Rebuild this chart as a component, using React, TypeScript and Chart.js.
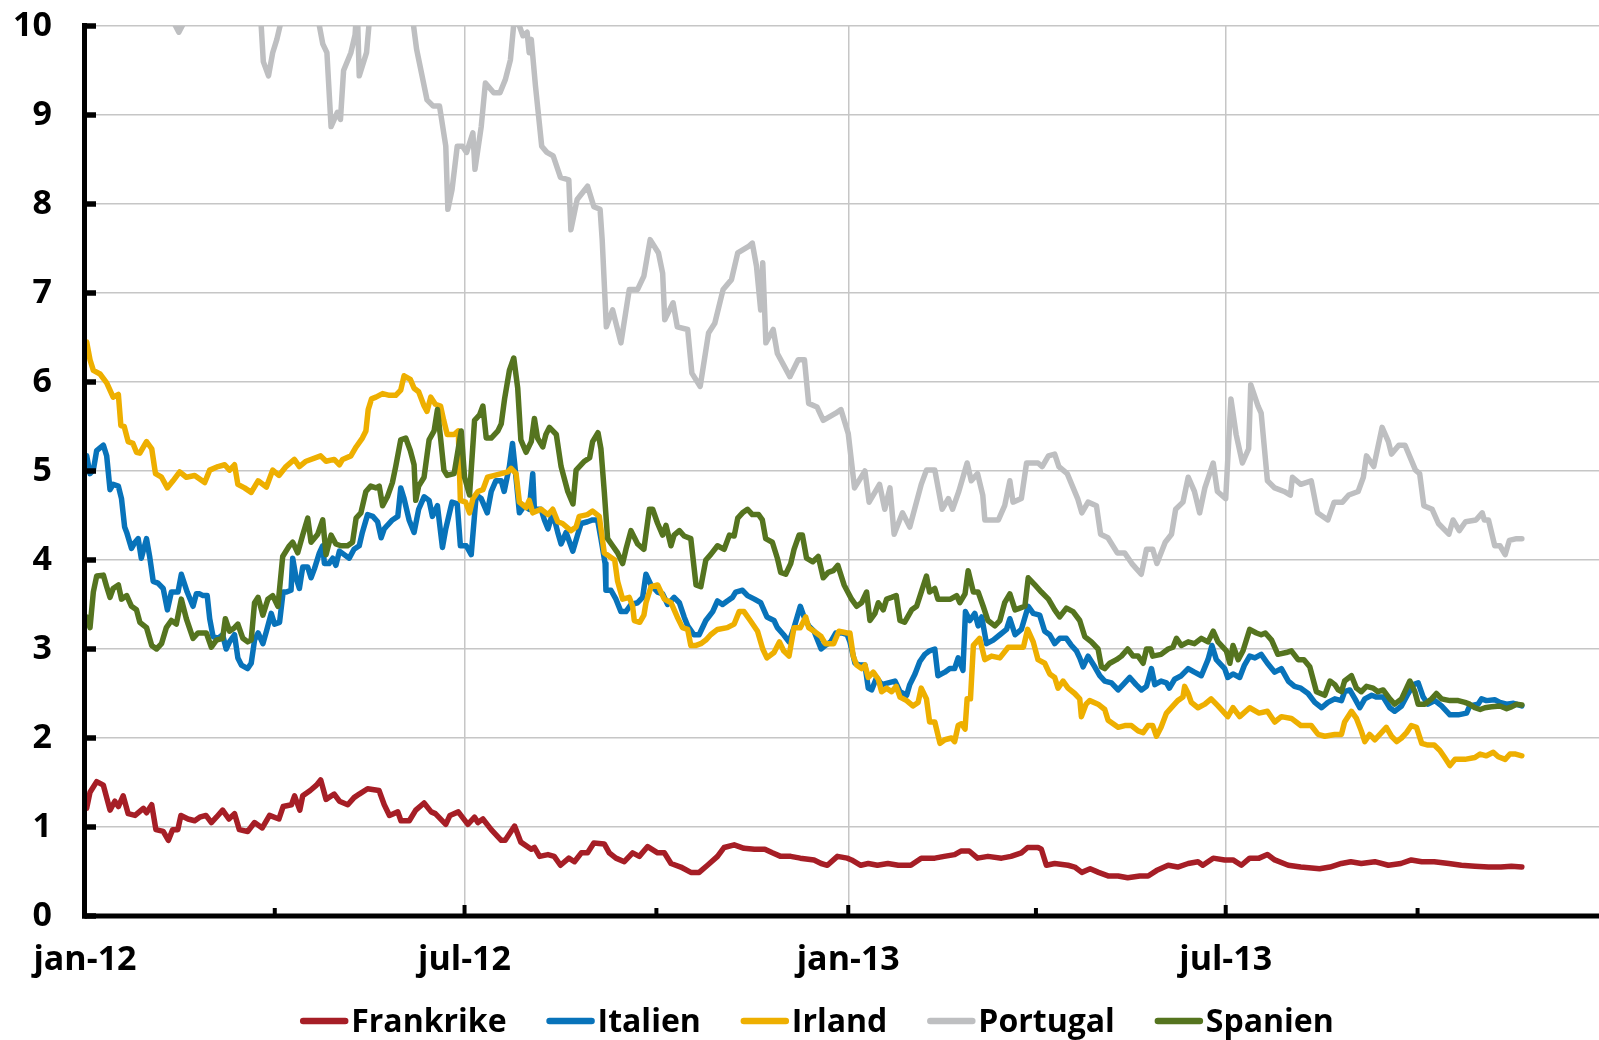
import React, { useEffect, useRef } from 'react';
import { Chart, registerables } from 'chart.js';

Chart.register(...registerables);

// x values are days since 2012-01-01
const TICK_DAYS = [0, 91, 182, 274, 366, 456, 547, 639];
const TICK_LABELS = ['jan-12', '', 'jul-12', '', 'jan-13', '', 'jul-13', ''];
const GRID_DAYS = [182, 366, 547];
const Y_TICKS = [0, 1, 2, 3, 4, 5, 6, 7, 8, 9, 10];

const SERIES_NAMES = ['Frankrike', 'Italien', 'Irland', 'Portugal', 'Spanien'];
const SERIES_COLORS = ['#A61E26', '#0873BA', '#EEAF00', '#BEBFC1', '#55741F'];

const FRANKRIKE: [number, number][] = [
  [0.8, 1.21], [2.4, 1.39], [5.6, 1.51], [8.8, 1.47], [12, 1.19], [14.3, 1.29], [16, 1.23], [18.3, 1.35], [20.7, 1.15], [24, 1.13],
  [28, 1.21], [29.5, 1.16], [32, 1.25], [34, 0.97], [37.5, 0.95], [40, 0.85], [42, 0.97], [44.5, 0.97], [46, 1.13], [49.4, 1.09],
  [52.6, 1.07], [55, 1.11], [58, 1.13], [60.6, 1.05], [63, 1.11], [66, 1.19], [69, 1.09], [71.7, 1.15], [74, 0.97], [78, 0.95],
  [81.3, 1.05], [85, 0.99], [88.5, 1.13], [93, 1.09], [95, 1.23], [99, 1.25], [100.5, 1.35], [103, 1.19], [104.4, 1.35], [108, 1.41],
  [111, 1.47], [113, 1.53], [115.6, 1.31], [119.5, 1.37], [122, 1.29], [126, 1.25], [129, 1.33], [131.5, 1.37], [135.5, 1.43], [141, 1.41],
  [143.5, 1.25], [146, 1.13], [150, 1.17], [151.5, 1.07], [155.5, 1.07], [158.6, 1.19], [162.6, 1.27], [166, 1.17], [168, 1.15], [173, 1.03],
  [175, 1.13], [179, 1.17], [183.6, 1.03], [186.8, 1.11], [188.4, 1.05], [190.8, 1.09], [194.8, 0.97], [199.6, 0.85], [201.5, 0.85], [206, 1.01],
  [209, 0.83], [214, 0.75], [215.5, 0.77], [218, 0.67], [222, 0.69], [225, 0.67], [228, 0.57], [232, 0.65], [234.7, 0.61], [238, 0.71],
  [241, 0.71], [244, 0.82], [249, 0.81], [251.4, 0.71], [254.6, 0.65], [258.6, 0.61], [262.6, 0.71], [265.8, 0.67], [269.8, 0.78], [274.6, 0.71],
  [277.8, 0.71], [281, 0.59], [285.7, 0.55], [290.5, 0.49], [294.5, 0.49], [298.5, 0.57], [303.3, 0.67], [306.5, 0.77], [311.3, 0.8], [316, 0.76],
  [321, 0.75], [326, 0.75], [329.6, 0.71], [333.6, 0.67], [338.4, 0.67], [343, 0.65], [349.6, 0.63], [353, 0.59], [356, 0.57], [360.8, 0.67],
  [365.5, 0.65], [367.6, 0.63], [372, 0.57], [375.6, 0.59], [380, 0.57], [385, 0.59], [390, 0.57], [396, 0.57], [401, 0.65], [407.5, 0.65],
  [412, 0.67], [417, 0.69], [420, 0.73], [424, 0.73], [428, 0.65], [433, 0.67], [439.5, 0.65], [444, 0.67], [449, 0.71], [452, 0.77],
  [457, 0.77], [458.6, 0.75], [461, 0.57], [465, 0.59], [471.4, 0.57], [474.6, 0.55], [478, 0.49], [482, 0.53], [486, 0.49], [490.6, 0.45],
  [495.4, 0.45], [500, 0.43], [505.8, 0.45], [509.8, 0.45], [513.8, 0.51], [519.4, 0.57], [524, 0.55], [529, 0.59], [533.7, 0.61], [536, 0.57],
  [541, 0.65], [546.5, 0.63], [550.5, 0.63], [554.5, 0.57], [558.5, 0.65], [563, 0.65], [567, 0.69], [570.5, 0.63], [577, 0.57], [583, 0.55],
  [592, 0.53], [597, 0.55], [602.5, 0.59], [607, 0.61], [612, 0.59], [618.5, 0.61], [625, 0.57], [631, 0.59], [636, 0.63], [641, 0.61],
  [647, 0.61], [654, 0.59], [660, 0.57], [666.5, 0.56], [673, 0.55], [679, 0.55], [684, 0.56], [689, 0.55],
];

const ITALIEN: [number, number][] = [
  [0.8, 5.17], [2.4, 4.97], [4, 5.01], [5.6, 5.23], [8.8, 5.29], [10.4, 5.17], [12, 4.79], [13.5, 4.85], [16, 4.83], [17.5, 4.69],
  [19, 4.37], [20, 4.31], [22.3, 4.13], [24, 4.2], [25.5, 4.24], [27, 4.02], [29.5, 4.24], [31, 4.04], [32.7, 3.76], [35, 3.74],
  [37.5, 3.68], [39.5, 3.44], [41.4, 3.64], [44.6, 3.64], [46.2, 3.84], [49, 3.64], [51.8, 3.48], [53.4, 3.62], [55, 3.62], [56.6, 3.6],
  [58.6, 3.6], [59.8, 3.34], [61.4, 3.14], [63.8, 3.12], [66, 3.16], [67.7, 3.0], [69.3, 3.08], [71.7, 3.16], [73.3, 2.9], [75, 2.82],
  [78, 2.78], [79.7, 2.84], [81.3, 3.1], [83, 3.18], [85.3, 3.06], [87, 3.2], [89.3, 3.4], [90.9, 3.28], [93.3, 3.3], [95, 3.64],
  [96.4, 3.64], [98.8, 3.66], [99.6, 4.02], [101.2, 3.8], [102.8, 3.68], [104.4, 3.92], [106.8, 3.92], [108.4, 3.8], [110, 3.9], [112.4, 4.08],
  [114, 4.16], [114.8, 3.96], [117, 3.96], [118.8, 4.02], [120.3, 3.94], [122, 4.1], [124.3, 4.06], [126.7, 4.02], [129, 4.12], [131.5, 4.16],
  [133, 4.31], [135.5, 4.51], [138, 4.49], [140.3, 4.43], [142, 4.25], [143.5, 4.35], [145, 4.39], [147.4, 4.45], [150, 4.49], [151.4, 4.81],
  [153, 4.69], [155.4, 4.45], [157.8, 4.31], [160, 4.57], [162.6, 4.71], [165, 4.67], [166.6, 4.49], [169, 4.61], [171.4, 4.14], [173, 4.35],
  [176, 4.65], [178.5, 4.63], [180, 4.16], [182.8, 4.16], [185.2, 4.06], [187.6, 4.73], [190, 4.69], [192.9, 4.53], [194.8, 4.77], [197, 4.89],
  [199.6, 4.89], [201, 4.77], [203.5, 5.05], [205, 5.31], [206, 5.09], [208.3, 4.53], [210.7, 4.61], [213, 4.57], [214.7, 4.97], [215.5, 4.57],
  [218.7, 4.57], [220.3, 4.45], [222, 4.35], [224.3, 4.53], [226.7, 4.31], [228.3, 4.18], [230.7, 4.31], [233.9, 4.1], [236.3, 4.29], [237.9, 4.41],
  [241, 4.43], [243.4, 4.45], [245.8, 4.45], [247.4, 4.24], [249.4, 3.96], [249.8, 3.66], [252.2, 3.66], [254.6, 3.56], [257, 3.42], [259.4, 3.42],
  [261.8, 3.5], [265, 3.52], [267.4, 3.58], [269, 3.84], [271.4, 3.72], [274.6, 3.64], [277, 3.62], [279.4, 3.5], [282.5, 3.58], [285, 3.52],
  [287.3, 3.36], [289, 3.26], [292, 3.16], [294.5, 3.16], [297.7, 3.32], [301, 3.42], [303.3, 3.54], [305.7, 3.5], [308, 3.54], [310.5, 3.58],
  [312, 3.64], [315.3, 3.66], [317.7, 3.6], [321, 3.56], [324, 3.52], [327, 3.36], [330.4, 3.32], [332, 3.24], [335, 3.16], [337.6, 3.08],
  [340, 3.24], [343, 3.48], [344.8, 3.36], [347, 3.26], [349.6, 3.2], [353, 3.0], [355, 3.04], [357.6, 3.08], [360, 3.18], [363, 3.18],
  [365.5, 3.16], [366.8, 3.08], [369.2, 2.84], [371.6, 2.82], [374, 2.82], [375.6, 2.56], [377.2, 2.54], [379.6, 2.68], [382, 2.6], [385.2, 2.62],
  [388.4, 2.64], [390.8, 2.52], [394, 2.48], [395.5, 2.6], [398, 2.72], [400.3, 2.86], [402.7, 2.94], [405, 2.98], [407.5, 3.0], [409, 2.7],
  [412.3, 2.74], [414.7, 2.78], [417, 2.78], [418.7, 2.9], [421, 2.76], [422.2, 3.42], [424.3, 3.32], [426.7, 3.4], [428.3, 3.26], [430, 3.36],
  [432.3, 3.06], [435.5, 3.1], [438.7, 3.16], [441.9, 3.22], [443.5, 3.34], [446, 3.16], [449, 3.22], [452.3, 3.48], [454.7, 3.4], [457.8, 3.38],
  [460.2, 3.2], [462.6, 3.16], [465, 3.06], [467.4, 3.12], [470.6, 3.12], [473, 3.04], [475.4, 2.98], [477, 2.9], [478.6, 2.8], [481, 2.92],
  [484.2, 2.8], [486.6, 2.7], [489, 2.64], [492.2, 2.62], [495.4, 2.54], [497.8, 2.6], [501, 2.68], [504, 2.6], [506.6, 2.54], [509, 2.58],
  [511.4, 2.78], [513, 2.6], [516, 2.64], [518.6, 2.62], [520, 2.56], [522.5, 2.66], [525.7, 2.7], [529, 2.78], [532, 2.74], [535.3, 2.7],
  [538.5, 2.88], [540.4, 3.04], [542.5, 2.88], [546.5, 2.78], [548, 2.68], [550.5, 2.72], [553.7, 2.68], [556, 2.82], [558.5, 2.92], [561, 2.9],
  [564, 2.94], [567, 2.84], [570.5, 2.74], [573.7, 2.78], [577, 2.64], [580, 2.58], [583, 2.56], [586.5, 2.5], [589.7, 2.4], [593, 2.34],
  [596, 2.4], [599.3, 2.44], [602.5, 2.42], [604, 2.52], [606.5, 2.54], [609, 2.44], [611.3, 2.34], [613.7, 2.44], [617, 2.48], [619.3, 2.46],
  [622.5, 2.46], [625.7, 2.34], [628, 2.3], [631.3, 2.36], [634.5, 2.5], [637, 2.6], [639.3, 2.62], [641.7, 2.46], [644, 2.38], [647.3, 2.42],
  [650.5, 2.36], [654.5, 2.26], [658.5, 2.26], [662.5, 2.28], [664, 2.36], [668, 2.38], [669.7, 2.44], [672, 2.42], [676, 2.43], [678.5, 2.4],
  [681.7, 2.38], [685, 2.39], [689, 2.36],
];

const IRLAND: [number, number][] = [
  [0.8, 6.45], [2.4, 6.25], [4, 6.13], [7.2, 6.09], [10.4, 5.99], [13.5, 5.83], [16, 5.86], [17.2, 5.51], [18.8, 5.5], [20.7, 5.33],
  [23, 5.31], [24.7, 5.21], [26.3, 5.2], [29.5, 5.33], [32, 5.25], [33.8, 4.97], [36.7, 4.93], [39.5, 4.81], [42.2, 4.89], [45.4, 4.99],
  [48.6, 4.93], [52.6, 4.95], [55, 4.91], [57.4, 4.87], [59.8, 5.01], [63.8, 5.05], [67, 5.07], [69.3, 5.01], [71.7, 5.07], [73.3, 4.85],
  [76.5, 4.81], [79.7, 4.76], [83, 4.89], [87, 4.82], [90, 5.01], [93, 4.95], [96.4, 5.05], [100.4, 5.13], [102.8, 5.05], [106, 5.11],
  [113, 5.17], [115.6, 5.11], [119.5, 5.13], [122, 5.07], [123.5, 5.13], [127.5, 5.17], [130, 5.27], [133, 5.37], [134.7, 5.45], [135.8, 5.69],
  [137.4, 5.81], [139.5, 5.83], [142.7, 5.87], [146, 5.85], [149, 5.85], [151.4, 5.91], [153, 6.07], [156, 6.03], [157.8, 5.93], [160, 5.89],
  [162.6, 5.73], [164, 5.67], [165.8, 5.83], [168, 5.75], [170.5, 5.73], [172, 5.57], [173.7, 5.41], [177, 5.41], [179, 5.45], [180, 4.67],
  [182.5, 4.65], [184.4, 4.53], [186, 4.69], [188.4, 4.77], [190.8, 4.79], [193, 4.93], [196.4, 4.95], [199.6, 4.97], [202.7, 4.99], [204.3, 5.03],
  [206.7, 4.97], [208.3, 4.65], [211.5, 4.59], [213, 4.67], [214.7, 4.53], [218.7, 4.57], [222, 4.51], [224.3, 4.57], [226.7, 4.43], [229, 4.41],
  [233, 4.33], [235.5, 4.37], [237, 4.49], [241, 4.51], [243.4, 4.55], [246.6, 4.49], [249, 4.08], [254, 4.0], [255.4, 3.76], [257.8, 3.56],
  [261, 3.58], [262.6, 3.48], [263.4, 3.32], [266, 3.3], [268, 3.38], [269, 3.52], [271.4, 3.7], [274.6, 3.72], [277.8, 3.56], [281, 3.52],
  [284, 3.36], [286.5, 3.24], [289, 3.22], [290.5, 3.04], [293, 3.04], [295.3, 3.06], [297.7, 3.1], [300, 3.16], [303.3, 3.22], [308, 3.24],
  [311.3, 3.28], [313.7, 3.42], [316, 3.42], [319, 3.32], [322.5, 3.2], [325, 3.0], [327, 2.9], [330.4, 2.96], [333, 3.08], [335, 2.98],
  [337.6, 2.92], [340, 3.24], [343, 3.24], [345.6, 3.36], [347, 3.24], [349.6, 3.2], [353, 3.14], [355, 3.06], [359, 3.06], [361.5, 3.2],
  [365.5, 3.18], [366.8, 3.18], [368.4, 2.92], [370, 2.82], [372.4, 2.78], [374, 2.82], [375.6, 2.68], [378, 2.74], [380.4, 2.66], [382, 2.52],
  [384.4, 2.56], [386.8, 2.52], [389, 2.58], [390.8, 2.46], [394, 2.42], [397, 2.36], [399.5, 2.4], [401, 2.56], [403.5, 2.44], [405, 2.18],
  [407.5, 2.18], [410, 1.94], [412.3, 1.98], [415.5, 2.0], [417, 1.96], [418.7, 2.14], [420.3, 2.16], [422, 2.1], [423, 2.44], [424.6, 2.44],
  [426, 3.04], [429, 3.12], [431.5, 2.88], [434.7, 2.92], [438.7, 2.9], [442.7, 3.02], [445.9, 3.02], [450, 3.02], [452, 3.22], [454.7, 3.08],
  [457, 2.88], [460.2, 2.84], [462.6, 2.72], [465, 2.68], [466.6, 2.56], [469, 2.64], [471.4, 2.56], [474.6, 2.5], [477, 2.44], [477.8, 2.24],
  [480, 2.38], [481.8, 2.42], [485.8, 2.38], [489, 2.32], [490.6, 2.2], [493, 2.16], [495.4, 2.12], [498.6, 2.14], [501.8, 2.14], [505, 2.08],
  [507.4, 2.06], [509.8, 2.14], [512, 2.14], [513.8, 2.02], [516, 2.12], [518.6, 2.28], [521.7, 2.36], [524, 2.42], [526.5, 2.46], [527.3, 2.58],
  [529, 2.5], [530.5, 2.4], [533.7, 2.34], [537, 2.38], [540, 2.44], [543.3, 2.36], [548, 2.24], [550.5, 2.34], [553.7, 2.24], [558.5, 2.34],
  [563, 2.28], [567, 2.3], [570.5, 2.18], [573.7, 2.24], [578.5, 2.22], [583, 2.14], [588, 2.14], [591.3, 2.04], [594.5, 2.02], [599.3, 2.04],
  [602.5, 2.04], [604, 2.18], [607.3, 2.3], [609.7, 2.22], [612, 2.08], [613.7, 1.96], [616, 2.04], [618.5, 1.98], [621.7, 2.06], [624, 2.12],
  [626.5, 2.02], [629, 1.96], [631.3, 2.0], [633.7, 2.06], [636, 2.14], [638.5, 2.12], [641, 1.94], [644, 1.92], [647, 1.92], [649.7, 1.86],
  [652, 1.78], [654.5, 1.69], [657, 1.76], [661.7, 1.76], [666.5, 1.78], [669, 1.82], [672, 1.8], [675.3, 1.84], [677.7, 1.79], [681, 1.76],
  [683.3, 1.82], [686, 1.82], [689, 1.8],
];

const PORTUGAL: [number, number][] = [
  [1, 12.6], [8, 13.4], [15, 14.2], [22, 13.8], [29, 12.6], [36, 11.2], [41, 10.3], [43, 10.02], [45, 9.93], [47, 10.02],
  [50, 10.8], [56, 11.8], [64, 12.2], [72, 11.6], [79, 10.9], [84, 10.2], [85.5, 9.6], [88, 9.44], [90, 9.7], [92, 9.85],
  [94, 10.05], [98, 10.6], [104, 10.9], [109, 10.4], [112, 10.05], [114, 9.8], [116, 9.7], [118, 8.87], [121, 9.03], [122.5, 8.95],
  [124, 9.5], [127.5, 9.7], [129.5, 9.9], [130.5, 10.25], [131.5, 9.44], [135, 9.7], [136.5, 10.1], [140, 10.9], [147, 11.2], [153, 10.7],
  [157, 10.1], [159, 9.74], [164, 9.17], [167, 9.1], [170, 9.1], [173, 8.65], [174, 7.94], [176, 8.16], [178.5, 8.65], [181, 8.65],
  [183, 8.58], [186, 8.8], [187, 8.39], [190, 8.87], [192, 9.36], [196, 9.25], [199, 9.25], [201.6, 9.4], [204, 9.62], [205.6, 10.02],
  [208, 10.02], [210, 9.89], [212, 9.93], [213, 9.7], [214, 9.85], [216, 9.33], [219, 8.65], [221.5, 8.58], [224.5, 8.54], [228, 8.3],
  [232, 8.27], [233, 7.71], [236, 8.05], [241, 8.2], [244, 7.97], [247, 7.94], [248, 7.6], [250, 6.62], [253, 6.81], [257, 6.44],
  [261, 7.04], [265, 7.04], [268, 7.19], [271, 7.6], [275, 7.45], [277, 7.22], [278, 6.7], [282, 6.89], [284, 6.62], [289, 6.59],
  [291, 6.1], [295, 5.95], [297, 6.25], [299, 6.55], [302, 6.66], [306, 7.04], [310, 7.15], [313, 7.45], [318, 7.52], [320, 7.56],
  [322, 7.3], [324, 6.81], [325, 7.34], [326.5, 6.44], [330, 6.59], [332, 6.32], [338, 6.06], [342, 6.25], [345, 6.25], [347, 5.76],
  [351, 5.72], [354, 5.57], [360, 5.65], [362.5, 5.69], [366, 5.42], [369, 4.81], [374, 5.0], [376, 4.65], [381, 4.85], [383.5, 4.57],
  [386, 4.81], [388, 4.29], [392, 4.53], [395.5, 4.37], [401, 4.85], [403.5, 5.01], [407.5, 5.01], [411, 4.57], [414, 4.69], [416, 4.57],
  [419, 4.77], [423, 5.09], [425, 4.89], [428, 4.97], [430.5, 4.73], [431.5, 4.45], [438, 4.45], [441, 4.61], [443.5, 4.89], [445, 4.65],
  [449, 4.69], [451.5, 5.09], [457, 5.09], [459, 5.05], [462, 5.17], [465, 5.19], [467, 5.05], [471, 4.97], [476, 4.69], [478, 4.53],
  [481, 4.65], [485, 4.61], [487, 4.29], [490.5, 4.25], [495, 4.08], [498.5, 4.08], [502, 3.96], [506.5, 3.84], [509, 4.12], [512, 4.12],
  [514, 3.96], [518, 4.2], [521, 4.29], [523, 4.57], [526.5, 4.65], [529, 4.93], [532, 4.77], [534.5, 4.53], [537, 4.81], [541, 5.09],
  [543, 4.77], [547, 4.69], [549.5, 5.81], [552, 5.41], [555, 5.09], [558, 5.25], [559, 5.97], [562.5, 5.73], [564, 5.65], [567, 4.89],
  [570.5, 4.81], [575, 4.77], [578, 4.73], [579, 4.93], [583, 4.85], [588, 4.89], [591, 4.53], [596, 4.45], [599, 4.65], [603, 4.65],
  [606, 4.73], [610.5, 4.77], [613, 4.93], [614.5, 5.17], [618, 5.05], [622, 5.49], [625, 5.33], [626.5, 5.19], [630, 5.29], [633, 5.29],
  [638, 5.01], [640, 4.97], [642, 4.61], [646, 4.57], [649, 4.41], [654, 4.29], [656, 4.45], [659, 4.33], [662, 4.43], [667, 4.45],
  [670, 4.53], [671, 4.45], [673, 4.45], [676, 4.16], [678.5, 4.16], [681, 4.06], [683, 4.22], [686.5, 4.24], [689, 4.24],
];

const SPANIEN: [number, number][] = [
  [0.8, 3.36], [2.4, 3.24], [4, 3.64], [5.6, 3.82], [8.8, 3.83], [10.4, 3.7], [12, 3.58], [13.5, 3.68], [16, 3.72], [17.5, 3.56],
  [20, 3.6], [22.3, 3.48], [24.7, 3.44], [26.3, 3.3], [29.5, 3.24], [32, 3.04], [34.3, 3.0], [36.7, 3.06], [39, 3.24], [41.4, 3.32],
  [43.8, 3.28], [46.2, 3.56], [48.6, 3.34], [51.8, 3.12], [54.2, 3.18], [58.2, 3.18], [60.6, 3.02], [63, 3.1], [66, 3.12], [67.3, 3.34],
  [69.3, 3.2], [71.7, 3.24], [73.3, 3.28], [75.7, 3.12], [78, 3.08], [79.7, 3.1], [81.3, 3.52], [83, 3.58], [85.3, 3.38], [87.7, 3.56],
  [90, 3.6], [92.5, 3.48], [94.8, 4.04], [98, 4.16], [99.6, 4.2], [102, 4.08], [104.4, 4.28], [106.8, 4.47], [108.4, 4.2], [111.6, 4.29],
  [114, 4.45], [115.6, 4.06], [118, 4.28], [120.3, 4.18], [122.7, 4.16], [125.9, 4.16], [128.3, 4.2], [130, 4.47], [132.3, 4.53], [134.7, 4.77],
  [137, 4.83], [139.5, 4.81], [141.1, 4.83], [142.7, 4.61], [145, 4.71], [147.4, 4.87], [149, 5.05], [151.4, 5.35], [153.8, 5.37], [156, 5.23],
  [157.8, 5.07], [158.6, 4.67], [160, 4.83], [162.6, 4.93], [165, 5.35], [167.4, 5.45], [169, 5.69], [170.5, 5.37], [172.1, 5.01], [173.7, 4.95],
  [177, 4.97], [180.4, 5.45], [182, 4.93], [184.4, 4.73], [186.8, 5.57], [189.2, 5.63], [190.8, 5.73], [192.4, 5.37], [194.8, 5.37], [198, 5.45],
  [199.6, 5.53], [201.2, 5.81], [203.5, 6.13], [205.6, 6.27], [207.5, 5.93], [209, 5.35], [211.5, 5.21], [214, 5.33], [215.5, 5.59], [217, 5.37],
  [219.5, 5.27], [221, 5.41], [222.7, 5.49], [226, 5.41], [228.3, 5.05], [231.5, 4.77], [234, 4.63], [235.5, 5.01], [239.5, 5.11], [242, 5.15],
  [243.4, 5.33], [246, 5.43], [247.4, 5.25], [249, 4.77], [250.6, 4.24], [253, 4.16], [255.4, 4.08], [257.8, 3.96], [259.4, 4.12], [261.8, 4.33],
  [265, 4.18], [268, 4.12], [270.6, 4.57], [272.2, 4.57], [274.6, 4.41], [277, 4.28], [278.6, 4.39], [281, 4.16], [282.5, 4.28], [285, 4.33],
  [287.3, 4.27], [290.5, 4.24], [293, 3.72], [295.3, 3.7], [297.7, 4.0], [300, 4.06], [303.3, 4.16], [306.5, 4.12], [309, 4.28], [311.3, 4.27],
  [313, 4.47], [315.3, 4.53], [317.7, 4.57], [320, 4.51], [323, 4.51], [324.8, 4.45], [326.4, 4.24], [329.6, 4.2], [332, 4.02], [333.6, 3.86],
  [336, 3.84], [338.4, 3.96], [340, 4.12], [342.4, 4.28], [344, 4.28], [346, 4.02], [349, 3.98], [351.6, 4.04], [354, 3.8], [356.4, 3.86],
  [358.8, 3.88], [361, 3.94], [364, 3.72], [367.6, 3.56], [370, 3.48], [372.4, 3.52], [374.8, 3.64], [376.4, 3.32], [378.8, 3.4], [380.4, 3.52],
  [382.8, 3.44], [384.4, 3.56], [386.8, 3.58], [389, 3.6], [390.8, 3.32], [393, 3.3], [396.4, 3.44], [398.8, 3.48], [401, 3.64], [403.5, 3.82],
  [405, 3.64], [407.5, 3.68], [409, 3.56], [412, 3.56], [415, 3.56], [418, 3.6], [419.5, 3.52], [422, 3.62], [423.5, 3.88], [426, 3.64],
  [428.3, 3.64], [430.7, 3.48], [433, 3.32], [436.3, 3.26], [438.7, 3.32], [441, 3.52], [443.5, 3.62], [446, 3.44], [448.3, 3.46], [450.7, 3.48],
  [452.3, 3.8], [455.5, 3.72], [458.6, 3.64], [462, 3.56], [465, 3.44], [467.4, 3.36], [470.6, 3.46], [473.8, 3.42], [477, 3.32], [479.4, 3.14],
  [482.6, 3.08], [485.8, 3.0], [487.4, 2.8], [489, 2.78], [491.4, 2.84], [494.6, 2.88], [497, 2.92], [500, 3.0], [502.6, 2.92], [505, 2.92],
  [507.4, 2.84], [509, 3.0], [511, 3.0], [512, 2.92], [516, 2.94], [519.4, 3.0], [521.7, 3.02], [523.4, 3.12], [525.7, 3.04], [529, 3.08],
  [532, 3.06], [535.3, 3.12], [538.5, 3.08], [541, 3.2], [543.3, 3.08], [547.3, 2.98], [549, 2.84], [550.5, 3.04], [553, 2.88], [555.3, 2.98],
  [558.5, 3.22], [561.7, 3.18], [564, 3.16], [566, 3.18], [569, 3.1], [572, 2.94], [576, 2.96], [578.5, 2.98], [581.7, 2.88], [584.5, 2.88],
  [587.3, 2.8], [590.5, 2.52], [594.5, 2.48], [597, 2.64], [599.3, 2.6], [601, 2.54], [602.5, 2.52], [604, 2.64], [607.3, 2.7], [609.7, 2.56],
  [612, 2.52], [614.5, 2.58], [617.7, 2.56], [620, 2.52], [622.5, 2.54], [625.7, 2.44], [628, 2.38], [631.3, 2.44], [633.7, 2.56], [635.3, 2.64],
  [637.7, 2.52], [639.3, 2.38], [642.5, 2.38], [645.7, 2.44], [648, 2.5], [650.5, 2.44], [654.5, 2.42], [658.5, 2.42], [661.7, 2.4], [664, 2.38],
  [666.5, 2.34], [669, 2.32], [671.3, 2.34], [674.5, 2.35], [678.5, 2.36], [681.7, 2.33], [684, 2.35], [686.5, 2.38], [689, 2.37],
];

const SERIES_DATA = [FRANKRIKE, ITALIEN, IRLAND, PORTUGAL, SPANIEN];

const FONT_FAMILY = '"Open Sans", "DejaVu Sans", sans-serif';

const axesLegendPlugin = {
  id: 'axesLegend',
  afterDraw(chart: any) {
    const { ctx, chartArea, scales } = chart;
    const { left, bottom } = chartArea;
    const xs = scales.x;
    const ys = scales.y;
    ctx.save();
    ctx.strokeStyle = '#000';
    ctx.lineCap = 'butt';
    // y axis line
    ctx.lineWidth = 5;
    ctx.beginPath();
    ctx.moveTo(left - 0.5, ys.getPixelForValue(10) - 3);
    ctx.lineTo(left - 0.5, bottom + 2.5);
    ctx.stroke();
    // y ticks (pointing inward)
    for (const v of Y_TICKS) {
      const py = ys.getPixelForValue(v);
      ctx.lineWidth = 5.5;
      ctx.beginPath();
      ctx.moveTo(left - 0.5, py);
      ctx.lineTo(left + 11, py);
      ctx.stroke();
    }
    // x axis line
    ctx.lineWidth = 5;
    ctx.beginPath();
    ctx.moveTo(left - 3, bottom);
    ctx.lineTo(chart.width, bottom);
    ctx.stroke();
    // x ticks (pointing inward)
    TICK_DAYS.forEach((d, i) => {
      if (d === 0) return;
      const px = xs.getPixelForValue(d);
      const len = TICK_LABELS[i] ? 11 : 8;
      ctx.lineWidth = 4;
      ctx.beginPath();
      ctx.moveTo(px, bottom);
      ctx.lineTo(px, bottom - len);
      ctx.stroke();
    });

    // legend
    ctx.font = `bold 32px ${FONT_FAMILY}`;
    ctx.textBaseline = 'alphabetic';
    ctx.textAlign = 'left';
    const lineLen = 48;
    const gapLineText = 3;
    const gapItems = 40;
    const widths = SERIES_NAMES.map((n) => ctx.measureText(n).width);
    const total = widths.reduce((a, w) => a + lineLen + gapLineText + w, 0) + gapItems * (SERIES_NAMES.length - 1);
    let x0 = 817 - total / 2;
    const lineY = 1021;
    const textY = 1032;
    SERIES_NAMES.forEach((name, i) => {
      ctx.strokeStyle = SERIES_COLORS[i];
      ctx.lineWidth = 6.5;
      ctx.lineCap = 'round';
      ctx.beginPath();
      ctx.moveTo(x0 + 3, lineY);
      ctx.lineTo(x0 + lineLen - 3, lineY);
      ctx.stroke();
      ctx.fillStyle = '#000';
      ctx.fillText(name, x0 + lineLen + gapLineText, textY);
      x0 += lineLen + gapLineText + widths[i] + gapItems;
    });
    ctx.restore();
  },
};

export default function App() {
  const canvasRef = useRef<HTMLCanvasElement | null>(null);

  useEffect(() => {
    if (!canvasRef.current) return;
    const datasets = SERIES_NAMES.map((name, i) => ({
      label: name,
      data: SERIES_DATA[i].map(([d, v]) => ({ x: d, y: v })),
      borderColor: SERIES_COLORS[i],
      backgroundColor: SERIES_COLORS[i],
      borderWidth: 5.5,
      pointRadius: 0,
      pointHoverRadius: 0,
      tension: 0,
      fill: false,
      borderJoinStyle: 'round' as const,
      borderCapStyle: 'round' as const,
      order: SERIES_NAMES.length - i,
      clip: { left: 5, top: 0, right: 0, bottom: 5 },
    }));

    const chart = new Chart(canvasRef.current, {
      type: 'line',
      data: { datasets },
      options: {
        animation: false,
        responsive: true,
        maintainAspectRatio: false,
        devicePixelRatio: 1,
        layout: { padding: { top: 26, left: 0, right: 0, bottom: 0 } },
        plugins: {
          legend: { display: false },
          tooltip: { enabled: false },
        },
        scales: {
          x: {
            type: 'linear',
            min: 0,
            max: 726,
            afterBuildTicks: (s: any) => {
              s.ticks = TICK_DAYS.map((v) => ({ value: v }));
            },
            afterFit: (s: any) => {
              s.height = 124;
            },
            ticks: {
              autoSkip: false,
              maxRotation: 0,
              minRotation: 0,
              padding: 24,
              color: '#000',
              font: { family: FONT_FAMILY, size: 34, weight: 'bold' },
              callback: (v: any) => {
                const i = TICK_DAYS.indexOf(Number(v));
                return i >= 0 ? TICK_LABELS[i] : '';
              },
            },
            grid: {
              drawTicks: false,
              lineWidth: 1.5,
              color: (c: any) => (c.tick && GRID_DAYS.includes(c.tick.value) ? '#C6C6C6' : 'rgba(0,0,0,0)'),
            },
            border: { display: false },
          },
          y: {
            min: 0,
            max: 10,
            afterBuildTicks: (s: any) => {
              s.ticks = Y_TICKS.map((v) => ({ value: v }));
            },
            afterFit: (s: any) => {
              s.width = 85;
              s.paddingTop = 0;
              s.paddingBottom = 0;
            },
            ticks: {
              padding: 33,
              color: '#000',
              font: { family: FONT_FAMILY, size: 34, weight: 'bold' },
            },
            grid: {
              drawTicks: false,
              lineWidth: 1.5,
              color: (c: any) => (c.tick && c.tick.value === 0 ? 'rgba(0,0,0,0)' : '#C6C6C6'),
            },
            border: { display: false },
          },
        },
      },
      plugins: [axesLegendPlugin],
    });
    return () => chart.destroy();
  }, []);

  return (
    <div style={{ position: 'absolute', left: 0, top: 0, width: 1599, height: 1040, background: '#fff' }}>
      <canvas ref={canvasRef} />
    </div>
  );
}
